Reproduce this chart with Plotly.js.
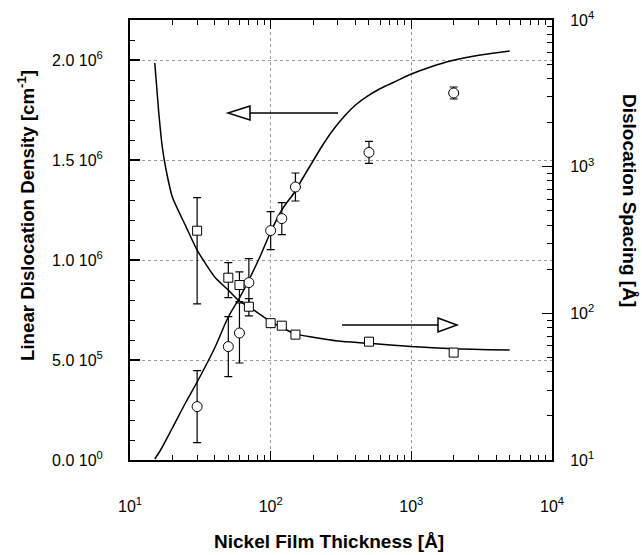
<!DOCTYPE html>
<html><head><meta charset="utf-8">
<script src="https://cdn.plot.ly/plotly-3.0.1.min.js"></script>
<style>body{margin:0;background:#fff}#chart{width:642px;height:555px}</style>
</head><body><div id="chart"></div>
<script>
const thickness = [30, 50, 60, 70, 100, 120, 150, 500, 2000];
const density = [2.67e5, 5.67e5, 6.35e5, 8.87e5, 1.147e6, 1.207e6, 1.365e6, 1.538e6, 1.835e6];
const densityErr = [1.8e5, 1.5e5, 1.5e5, 1.2e5, 9.5e4, 8e4, 7e4, 5.5e4, 3e4];
const spacing = [366, 175, 156, 111, 85.7, 82.4, 71.6, 64.1, 54];
const spacingErr = [250, 47, 36, 15, 5, 4, 3.5, 3.5, 3];

// Fitted curves
const fitDensityX = [15, 16.5, 20, 25, 30, 40, 50, 60, 70, 85, 100, 120, 150, 163, 202, 237, 281, 340, 401, 485, 603, 771, 1000, 1368, 1897, 3097, 5000];
const fitDensityY = [5e3, 5e4, 1.6e5, 2.9e5, 3.9e5, 5.6e5, 7.15e5, 8.1e5, 9.0e5, 1.025e6, 1.14e6, 1.25e6, 1.345e6, 1.39e6, 1.5e6, 1.58e6, 1.655e6, 1.725e6, 1.775e6, 1.818e6, 1.8575e6, 1.8925e6, 1.93e6, 1.965e6, 1.995e6, 2.025e6, 2.045e6];
const fitSpacingX = [15, 16, 17, 18, 20, 25, 30, 40, 50, 60, 70, 100, 150, 200, 300, 500, 1000, 2000, 5000];
const fitSpacingY = [5090, 2360, 1340, 964, 621, 390, 270, 177, 144, 121, 111, 87.7, 72.4, 68.7, 64.8, 62.5, 59.3, 57.4, 56.2];

// Tick labels
const xTickVals = [10, 100, 1000, 10000];
const xTickText = ['10<sup>1</sup>', '10<sup>2</sup>', '10<sup>3</sup>', '10<sup>4</sup>'];
const yTickVals = [0, 5e5, 1e6, 1.5e6, 2e6];
const yTickText = ['0.0 10<sup>0</sup>', '5.0 10<sup>5</sup>', '1.0 10<sup>6</sup>', '1.5 10<sup>6</sup>', '2.0 10<sup>6</sup>'];
const y2TickVals = [10, 100, 1000, 10000];
const y2TickText = ['10<sup>1</sup>', '10<sup>2</sup>', '10<sup>3</sup>', '10<sup>4</sup>'];

const logMinor = [];
for (let d = 1; d <= 3; d++) for (let k = 2; k <= 9; k++) logMinor.push(k * Math.pow(10, d));
const linMinor = [];
for (let i = 1; i <= 22; i++) if (i % 5 !== 0) linMinor.push(i * 1e5);

const FONT = 'Liberation Sans, Arial, sans-serif';
const L = 130, R = 90, T = 20, B = 95, W = 642, H = 555;
const pw = W - L - R, ph = H - T - B;
const px = v => (v - L) / pw;
const py = v => (H - B - v) / ph;

const traces = [
  {x: fitDensityX, y: fitDensityY, mode: 'lines', line: {color: 'black', width: 1.5, shape: 'spline', smoothing: 1}, yaxis: 'y', hoverinfo: 'skip'},
  {x: fitSpacingX, y: fitSpacingY, mode: 'lines', line: {color: 'black', width: 1.5, shape: 'spline', smoothing: 0.6}, yaxis: 'y2', hoverinfo: 'skip'},
  {x: thickness, y: density, mode: 'markers', yaxis: 'y',
   marker: {symbol: 'circle', size: 10, color: 'white', line: {color: 'black', width: 1}},
   error_y: {type: 'data', array: densityErr, visible: true, color: 'black', thickness: 1.2, width: 4}},
  {x: thickness, y: spacing, mode: 'markers', yaxis: 'y2',
   marker: {symbol: 'square', size: 9, color: 'white', line: {color: 'black', width: 1}},
   error_y: {type: 'data', array: spacingErr, visible: true, color: 'black', thickness: 1.2, width: 4}}
];

function arrowShapes(x0, x1, yc, tipX, half) {
  return [
    {type: 'line', xref: 'paper', yref: 'paper', x0: px(x0), x1: px(x1), y0: py(yc), y1: py(yc), line: {color: 'black', width: 1.5}},
    {type: 'path', xref: 'paper', yref: 'paper',
     path: `M ${px(x1)} ${py(yc - half)} L ${px(tipX)} ${py(yc)} L ${px(x1)} ${py(yc + half)} Z`,
     fillcolor: 'white', line: {color: 'black', width: 1.5}}
  ];
}

const tickFont = {family: FONT, size: 16, color: 'black'};

const layout = {
  width: W, height: H,
  margin: {l: L, r: R, t: T, b: B},
  paper_bgcolor: 'white', plot_bgcolor: 'white',
  showlegend: false,
  font: {family: FONT, size: 16, color: 'black'},
  xaxis: {
    type: 'log', range: [1, 4],
    tickmode: 'array', tickvals: xTickVals, ticktext: xTickText,
    ticks: 'inside', ticklen: 9, tickwidth: 1.5, tickcolor: 'black',
    showline: true, linecolor: 'black', linewidth: 2, mirror: 'ticks',
    showgrid: true, gridcolor: '#999', griddash: 'dot', gridwidth: 1,
    zeroline: false, ticklabelstandoff: 31,
    tickfont: tickFont,
    minor: {tickmode: 'array', tickvals: logMinor, ticks: 'inside', ticklen: 5, tickwidth: 1, tickcolor: 'black', showgrid: false}
  },
  yaxis: {
    range: [0, 2.2e6],
    tickmode: 'array', tickvals: yTickVals, ticktext: yTickText,
    ticks: 'inside', ticklen: 10, tickwidth: 1.5, tickcolor: 'black',
    showline: true, linecolor: 'black', linewidth: 2,
    showgrid: true, gridcolor: '#999', griddash: 'dot', gridwidth: 1,
    zeroline: false, ticklabelstandoff: 22,
    tickfont: tickFont,
    minor: {tickmode: 'array', tickvals: linMinor, ticks: 'inside', ticklen: 5, tickwidth: 1, tickcolor: 'black', showgrid: false}
  },
  yaxis2: {
    type: 'log', range: [1, 4], overlaying: 'y', side: 'right',
    tickmode: 'array', tickvals: y2TickVals, ticktext: y2TickText,
    ticks: 'inside', ticklen: 10, tickwidth: 1.5, tickcolor: 'black',
    showline: true, linecolor: 'black', linewidth: 2,
    showgrid: false, zeroline: false, ticklabelstandoff: 13,
    tickfont: tickFont,
    minor: {tickmode: 'array', tickvals: logMinor, ticks: 'inside', ticklen: 5, tickwidth: 1, tickcolor: 'black', showgrid: false}
  },
  shapes: [].concat(arrowShapes(338, 250, 113, 228, 7), arrowShapes(342, 438, 325, 457, 7)),
  annotations: [
    {text: '<b>Nickel Film Thickness [Å]</b>', xref: 'paper', yref: 'paper', x: px(329), y: py(541), xanchor: 'center', yanchor: 'middle', showarrow: false, font: {family: FONT, size: 19, color: 'black'}},
    {text: '<b>Linear Dislocation Density [cm<sup>-1</sup>]</b>', xref: 'paper', yref: 'paper', x: px(26), y: py(216), xanchor: 'center', yanchor: 'middle', textangle: -90, showarrow: false, font: {family: FONT, size: 18.7, color: 'black'}},
    {text: '<b>Dislocation Spacing [Å]</b>', xref: 'paper', yref: 'paper', x: px(630), y: py(200), xanchor: 'center', yanchor: 'middle', textangle: 90, showarrow: false, font: {family: FONT, size: 19, color: 'black'}}
  ]
};

Plotly.newPlot('chart', traces, layout, {displayModeBar: false, staticPlot: true});
</script>
</body></html>
